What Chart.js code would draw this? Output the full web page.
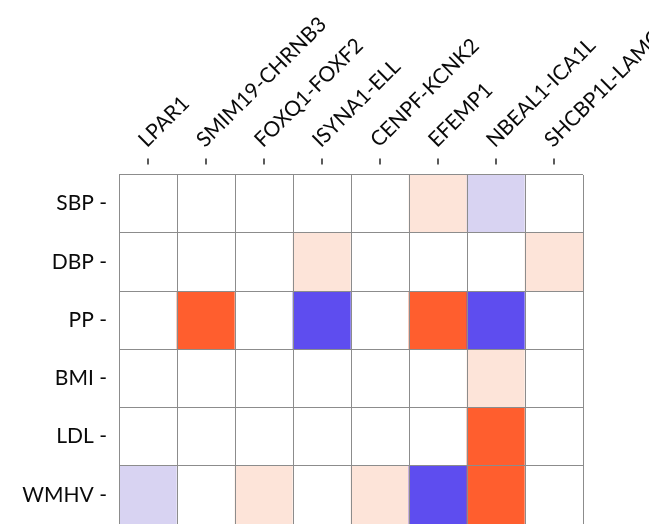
<!DOCTYPE html>
<html>
<head>
<meta charset="utf-8">
<script src="https://cdn.jsdelivr.net/npm/chart.js@4.4.1/dist/chart.umd.min.js"></script>
<style>
  html, body { margin: 0; padding: 0; background: #ffffff; }
  canvas { display: block; }
</style>
</head>
<body>
<canvas id="heat" width="649" height="524"></canvas>
<script>
// Traits (rows) and gene loci (columns)
const traits = ['SBP', 'DBP', 'PP', 'BMI', 'LDL', 'WMHV'];
const loci = ['LPAR1', 'SMIM19-CHRNB3', 'FOXQ1-FOXF2', 'ISYNA1-ELL', 'CENPF-KCNK2', 'EFEMP1', 'NBEAL1-ICA1L', 'SHCBP1L-LAMC1'];

// Association direction / strength per trait: -2 strong negative ... 2 strong positive
const sbp  = [0, 0, 0, 0, 0, 1, -1, 0];
const dbp  = [0, 0, 0, 1, 0, 0, 0, 1];
const pp   = [0, 2, 0, -2, 0, 2, -2, 0];
const bmi  = [0, 0, 0, 0, 0, 0, 1, 0];
const ldl  = [0, 0, 0, 0, 0, 0, 2, 0];
const wmhv = [-1, 0, 1, 0, 1, -2, 2, 0];
const rows = [sbp, dbp, pp, bmi, ldl, wmhv];

const palette = { '-2': '#5e4def', '-1': '#d8d3f2', '0': '#ffffff', '1': '#fde4d9', '2': '#ff5e2e' };

const datasets = rows.map((vals, r) => ({
  label: traits[r],
  data: vals.map(() => [r, r + 1]),
  backgroundColor: vals.map(v => palette[String(v)]),
  borderWidth: 0,
  barPercentage: 1,
  categoryPercentage: 1
}));

// small vertical tick marks above each column, separated from the grid
const columnTicks = {
  id: 'columnTicks',
  afterDraw(chart) {
    const xs = chart.scales.x;
    const top = chart.chartArea.top;
    const ctx = chart.ctx;
    ctx.save();
    ctx.strokeStyle = '#333333';
    ctx.lineWidth = 1.6;
    xs.ticks.forEach((t, i) => {
      const x = Math.round(xs.getPixelForTick(i));
      ctx.beginPath();
      ctx.moveTo(x, top - 16);
      ctx.lineTo(x, top - 10);
      ctx.stroke();
    });
    ctx.restore();
  }
};

new Chart(document.getElementById('heat'), {
  type: 'bar',
  data: { labels: loci, datasets },
  options: {
    responsive: false,
    animation: false,
    layout: { padding: { left: 0, right: 66, top: 0, bottom: 0 } },
    plugins: { legend: { display: false }, tooltip: { enabled: false } },
    scales: {
      x: {
        type: 'category',
        position: 'top',
        stacked: true,
        offset: true,
        border: { display: false },
        grid: { offset: true, z: 1, color: '#8c8c8c', lineWidth: 1, drawTicks: false, tickLength: 0 },
        ticks: {
          autoSkip: false,
          minRotation: 45,
          maxRotation: 45,
          padding: 22,
          labelOffset: 12,
          color: '#0a0a0a',
          font: { family: 'Lato', size: 21 }
        },
        afterFit(scale) {
          scale.height = 174.5;
          scale.paddingLeft = 0;
          scale.paddingRight = 0;
        }
      },
      y: {
        type: 'linear',
        reverse: true,
        min: 0,
        max: 6,
        border: { display: false },
        grid: {
          z: 1,
          drawTicks: false,
          tickLength: 0,
          lineWidth: 1,
          color: ctx => (ctx.tick && Number.isInteger(ctx.tick.value)) ? '#8c8c8c' : 'rgba(0,0,0,0)'
        },
        afterBuildTicks(scale) {
          const t = [];
          for (let i = 0; i <= traits.length; i++) {
            t.push({ value: i });
            if (i < traits.length) t.push({ value: i + 0.5 });
          }
          scale.ticks = t;
        },
        ticks: {
          padding: 12,
          color: '#0a0a0a',
          font: { family: 'Lato', size: 21 },
          callback: v => Number.isInteger(v) ? '' : traits[Math.floor(v)] + ' -'
        },
        afterFit(scale) {
          scale.width = 119;
          scale.paddingTop = 0;
          scale.paddingBottom = 0;
        }
      }
    }
  },
  plugins: [columnTicks]
});
</script>
</body>
</html>
